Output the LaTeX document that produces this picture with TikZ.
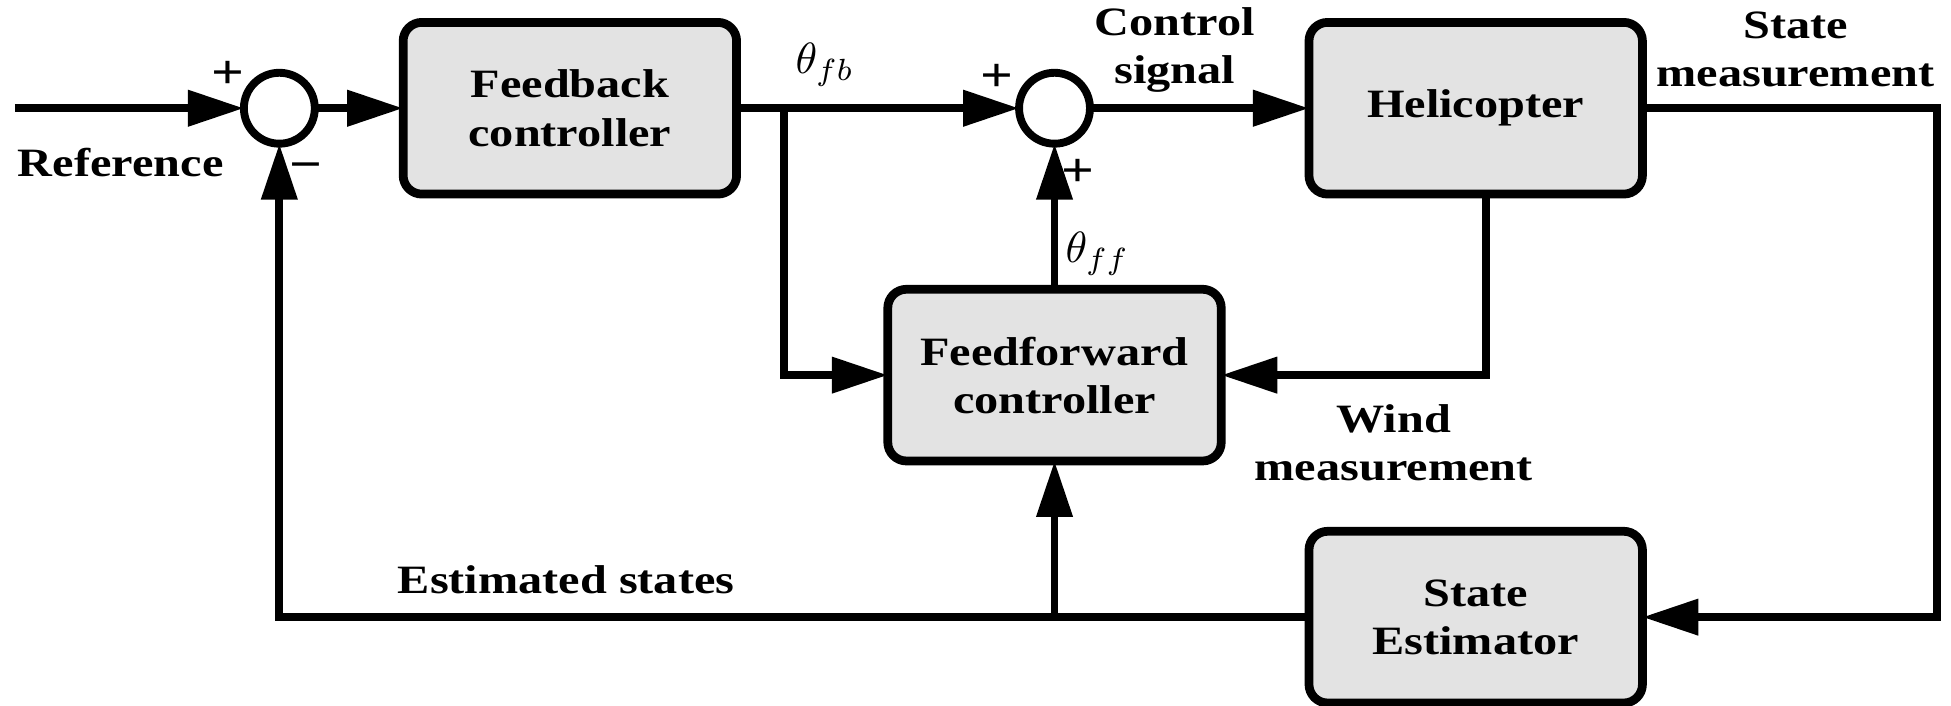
\documentclass[tikz,border=0pt]{standalone}
\usepackage{fontspec}
\setmainfont{Liberation Serif}[FakeStretch=1.2]
\usetikzlibrary{positioning,arrows.meta,calc}

\begin{document}
\begin{tikzpicture}[
    font=\fontsize{9.2}{11}\selectfont\bfseries,
    >={Triangle[length=4.5mm,width=2.8mm]},
    node distance=5mm and 9mm,
    block/.style = {rectangle, rounded corners=1.5mm, draw, line width=2pt,
                    fill=black!11, align=center, minimum width=2.68cm,
                    minimum height=1.38cm, inner sep=1mm, outer sep=0pt},
    sumjn/.style = {circle, draw, line width=1.8pt, minimum size=5.7mm,
                    inner sep=0pt, outer sep=0pt},
    flow/.style  = {->, line width=1.8pt},
    lbl/.style   = {align=center, inner sep=1pt},
    sgn/.style   = {font=\fontsize{11}{11}\selectfont\bfseries, inner sep=0pt},
    sig/.style   = {font=\fontsize{10}{12}\selectfont, inner sep=0pt}
]
\useasboundingbox (0,0) rectangle (15.68,-5.67);

% --- Forward path ------------------------------------------------------------
\coordinate (in) at (0.12,-0.87);
\node[sumjn,               right=1.84cm of in]   (sum1) {};
\node[block,               right=0.71cm of sum1] (fbc)  {Feedback\\controller};
\node[sumjn,               right=2.27cm of fbc]  (sum2) {};
\node[block,               right=1.76cm of sum2] (heli) {Helicopter};

% --- Lower blocks ------------------------------------------------------------
\node[block,               below=1.17cm of sum2] (ffc)  {Feedforward\\controller};
\node[block,               below=2.71cm of heli] (est)  {State\\Estimator};

% --- Labels ------------------------------------------------------------------
\node[lbl] (reflbl) at (0.97,-1.31)  {Reference};
\node[sgn] (plus1)  at (1.83,-0.60)  {+};
\node[sgn] (minus1) at (2.46,-1.38)  {−};
\node[sig] (thfb)   at (6.63,-0.52)  {$\theta_{fb}$};
\node[sgn] (plus2)  at (8.01,-0.63)  {+};
\node[sgn] (plus3)  at (8.66,-1.39)  {+};
\node[sig] (thff)   at (8.82,-2.04)  {$\theta_{ff}$};
\node[lbl] (ctrl)   at (9.44,-0.40)  {Control\\signal};
\node[lbl] (statem) at (14.43,-0.40) {State\\measurement};
\node[lbl] (windm)  at (11.20,-3.56) {Wind\\measurement};
\node[lbl] (estlbl) at (4.55,-4.66)  {Estimated states};

% --- Flows -------------------------------------------------------------------
\coordinate (br1) at ($(fbc.east)+(0.38,0)$);
\coordinate (hb)  at ($(heli.south)+(0.08,0)$);

\draw[flow] (in)   -- (sum1);
\draw[flow] (sum1) -- (fbc);
\draw[flow] (fbc)  -- (sum2);
\draw[flow] (sum2) -- (heli);
\draw[flow] (br1)  |- (ffc.west);
\draw[flow] (ffc)  -- (sum2);
\draw[flow] (hb)   |- (ffc.east);

% Measurement down the right side, estimate back along the bottom
\draw[flow] (heli.east) -- ++(2.37,0) |- (est.east);
\draw[flow] (est.west) -| (sum1.south);
\draw[flow] (ffc |- est.west) -- (ffc.south);

\end{tikzpicture}
\end{document}
